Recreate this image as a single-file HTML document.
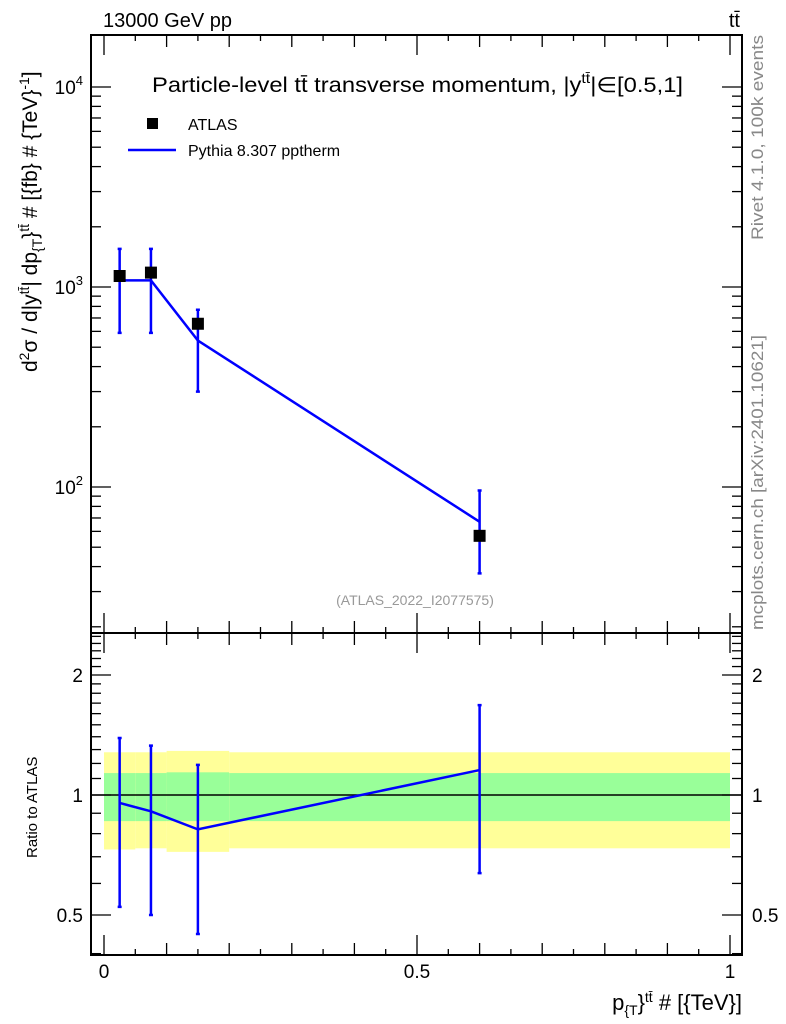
<!DOCTYPE html>
<html><head><meta charset="utf-8"><style>
body{margin:0;background:#fff;}
svg{display:block;font-family:"Liberation Sans",Arial,sans-serif;}
</style></head><body>
<svg id="c" width="786" height="1024" viewBox="0 0 786 1024" xmlns="http://www.w3.org/2000/svg">
<g id="g"></g>
<text x="103" y="27" font-size="20">13000 GeV pp</text>
<text x="740" y="27" font-size="20" text-anchor="end">tt̄</text>
<text x="152" y="92" font-size="21" textLength="531" lengthAdjust="spacingAndGlyphs">Particle-level tt̄ transverse momentum, |y<tspan font-size="14" dy="-9">tt̄</tspan><tspan dy="9">|∈[0.5,1]</tspan></text>
<rect x="147" y="118" width="11" height="11" fill="#000"/>
<text x="188" y="130" font-size="16">ATLAS</text>
<line x1="128" y1="150" x2="176" y2="150" stroke="#00f" stroke-width="2.5"/>
<text x="188" y="156" font-size="16">Pythia 8.307 pptherm</text>
<text x="415" y="605" font-size="14" fill="#999" text-anchor="middle">(ATLAS_2022_I2077575)</text>
<text transform="translate(763,630) rotate(-90)" font-size="17" fill="#888" textLength="295" lengthAdjust="spacingAndGlyphs">mcplots.cern.ch [arXiv:2401.10621]</text>
<text transform="translate(763,240) rotate(-90)" font-size="17" fill="#888" textLength="205" lengthAdjust="spacingAndGlyphs">Rivet 4.1.0,  100k events</text>
<text transform="translate(37,372) rotate(-90)" font-size="21">d<tspan font-size="14" dy="-8">2</tspan><tspan dy="8">σ / d|y</tspan><tspan font-size="14" dy="-8">tt̄</tspan><tspan dy="8">| dp</tspan><tspan font-size="14" dy="5">{T</tspan><tspan dy="-5">}</tspan><tspan font-size="14" dy="-8">tt̄</tspan><tspan dy="8"> # [{fb} # {TeV}</tspan><tspan font-size="14" dy="-8">-1</tspan><tspan dy="8">]</tspan></text>
<text transform="translate(37,858) rotate(-90)" font-size="15">Ratio to ATLAS</text>
<text x="742" y="1010" font-size="22" text-anchor="end">p<tspan font-size="14" dy="5">{T</tspan><tspan dy="-5">}</tspan><tspan font-size="14" dy="-8">tt̄</tspan><tspan dy="8"> # [{TeV}]</tspan></text>
</svg>
<script>
const xs=[0.025,0.075,0.15,0.6];
const binLo=[0,0.05,0.1,0.2];
const binHi=[0.05,0.1,0.2,1];
const dataVals=[1135,1180,655,57];
const mcVals=[1080,1080,540,67];
const errHi=[1550,1550,770,96];
const errLo=[590,590,300,37];
const ratioVals=[0.955,0.91,0.82,1.155];
const ratioHi=[1.39,1.33,1.19,1.68];
const ratioLo=[0.524,0.50,0.448,0.637];
const yelHi=[1.28,1.28,1.29,1.28];
const yelLo=[0.73,0.735,0.72,0.735];
const grnHi=[1.135,1.135,1.14,1.135];
const grnLo=[0.86,0.86,0.86,0.86];
const xTicks=[0,0.5,1];
const xTickLabels=["0","0.5","1"];

const NS="http://www.w3.org/2000/svg";
const g=document.getElementById('g');
const L=91,R=742,T=35,M=633,B=955;
const X=v=>104+(v)*626;
const Y=v=>287-(Math.log10(v)-3)*200;
const RY=v=>795-Math.log2(v)*120;
function mk(t,a,p){const e=document.createElementNS(NS,t);for(const k in a)e.setAttribute(k,a[k]);(p||g).appendChild(e);return e;}
for(let i=0;i<xs.length;i++){
 let e=mk('rect',{x:X(binLo[i]),y:RY(yelHi[i]),width:X(binHi[i])-X(binLo[i]),height:RY(yelLo[i])-RY(yelHi[i]),fill:'#ffff99'});
 
 
 e=mk('rect',{x:X(binLo[i]),y:RY(grnHi[i]),width:X(binHi[i])-X(binLo[i]),height:RY(grnLo[i])-RY(grnHi[i]),fill:'#99ff99'});
 
 
}
let ref=mk('line',{x1:L,x2:R,y1:RY(1),y2:RY(1),stroke:'#000','stroke-width':1.5});


let f=mk('rect',{x:L,y:T,width:R-L,height:M-T,fill:'none',stroke:'#000','stroke-width':2});


f=mk('rect',{x:L,y:M,width:R-L,height:B-M,fill:'none',stroke:'#000','stroke-width':2});


for(let v=0;v<=1.0001;v+=0.05){
 const big=Math.abs(v*2-Math.round(v*2))<1e-6, mid=Math.abs(v*10-Math.round(v*10))<1e-6;
 const len=big?20:(mid?12:6);
 for(const [y0,s] of [[T,1],[M,-1],[M,1],[B,-1]]) mk('line',{x1:X(v),x2:X(v),y1:y0,y2:y0+s*len,stroke:'#000','stroke-width':1.3});
}
xTicks.forEach((v,i)=>{const t=mk('text',{x:X(v),y:978,'font-size':19,'text-anchor':'middle'});t.textContent=xTickLabels[i];
 
 });
for(let d=1;d<=4;d++){for(let m=1;m<10;m++){const v=m*Math.pow(10,d);const y=Y(v);if(y<T||y>M)continue;
 const len=m==1?20:10;mk('line',{x1:L,x2:L+len,y1:y,y2:y,stroke:'#000','stroke-width':1.3});mk('line',{x1:R,x2:R-len,y1:y,y2:y,stroke:'#000','stroke-width':1.3});
 if(m==1&&d>=2){const t=mk('text',{x:83,y:y+7,'font-size':19,'text-anchor':'end'});t.innerHTML='10<tspan font-size="13" dy="-9">'+d+'</tspan>';
 
 }}}
const rt=[0.4,0.5,0.6,0.7,0.8,0.9,1,1.1,1.2,1.3,1.4,1.5,1.6,1.7,1.8,1.9,2,2.1,2.2,2.3,2.4,2.5];
rt.forEach(v=>{const y=RY(v);if(y<M||y>B)return;const big=(v==0.5||v==1||v==2);const len=big?20:10;
 mk('line',{x1:L,x2:L+len,y1:y,y2:y,stroke:'#000','stroke-width':1.3});mk('line',{x1:R,x2:R-len,y1:y,y2:y,stroke:'#000','stroke-width':1.3});});
[[0.5,"0.5"],[1,"1"],[2,"2"]].forEach(([v,s])=>{let t=mk('text',{x:83,y:RY(v)+7,'font-size':19,'text-anchor':'end'});t.textContent=s;
 
 
 t=mk('text',{x:752,y:RY(v)+7,'font-size':19});t.textContent=s;
 
 });
let pts=xs.map((x,i)=>X(x)+','+Y(mcVals[i])).join(' ');
let pl=mk('polyline',{points:pts,fill:'none',stroke:'#00f','stroke-width':2.5});


xs.forEach((x,i)=>{
 const e=mk('path',{d:`M${X(x)},${Y(errHi[i])}V${Y(errLo[i])}M${X(x)-2},${Y(errHi[i])}h4M${X(x)-2},${Y(errLo[i])}h4`,stroke:'#00f','stroke-width':2.5,fill:'none'});
 
 
 const r=mk('rect',{x:X(x)-6,y:Y(dataVals[i])-6,width:12,height:12,fill:'#000'});
 
 
});
pts=xs.map((x,i)=>X(x)+','+RY(ratioVals[i])).join(' ');
pl=mk('polyline',{points:pts,fill:'none',stroke:'#00f','stroke-width':2.5});


xs.forEach((x,i)=>{
 const e=mk('path',{d:`M${X(x)},${RY(ratioHi[i])}V${RY(ratioLo[i])}M${X(x)-2},${RY(ratioHi[i])}h4M${X(x)-2},${RY(ratioLo[i])}h4`,stroke:'#00f','stroke-width':2.5,fill:'none'});
 
 
});
</script>
</body></html>
